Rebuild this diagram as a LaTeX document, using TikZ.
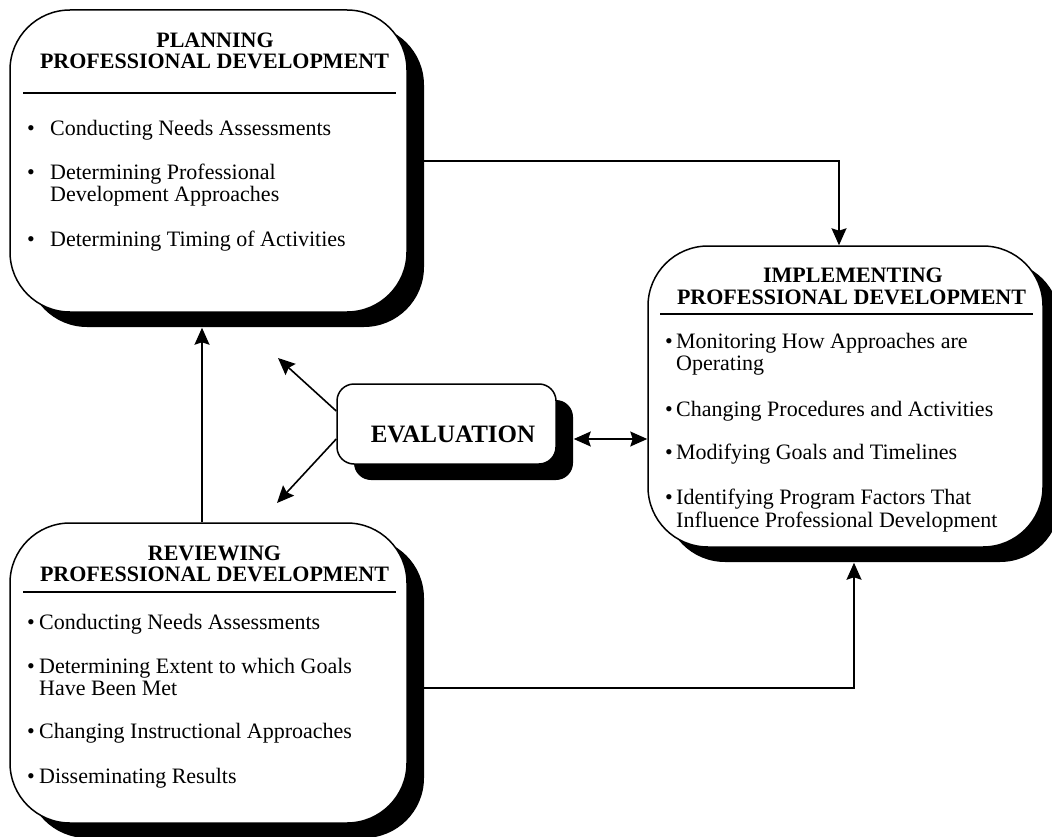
\documentclass[tikz,border=0pt]{standalone}
\usepackage{fontspec}
\setmainfont{Liberation Serif}
\usetikzlibrary{arrows.meta,shadows,calc}
\pgfdeclarelayer{bg}
\pgfsetlayers{bg,main}

\begin{document}
\begin{tikzpicture}[x=1pt,y=-1pt,
  stage/.style={draw, line width=1.5pt, fill=white, rounded corners=60pt, inner sep=0pt,
    general shadow={fill=black, shadow xshift=17pt, shadow yshift=-15pt}},
  evalbox/.style={draw, line width=1.5pt, fill=white, rounded corners=17pt, inner sep=0pt,
    minimum width=219pt, minimum height=80pt,
    general shadow={fill=black, shadow xshift=17pt, shadow yshift=-16pt}},
  head/.style={font=\bfseries\fontsize{22}{22}\selectfont, inner sep=0pt, anchor=base},
  item/.style={font=\fontsize{22}{22}\selectfont, inner sep=0pt, anchor=base west},
  rule/.style={line width=1.5pt},
  tip/.tip={Stealth[length=17pt,width=15pt,inset=2.5pt]},
  arr/.style={line width=1.6pt, -tip},
  darr/.style={line width=1.6pt, tip-tip}]

\useasboundingbox (0,0) rectangle (1052,837);

% ---- the four boxes ----
\node[stage, minimum width=397pt, minimum height=302pt] (pl) at (208.5,161) {};
\node[stage, minimum width=395pt, minimum height=301pt] (im) at (845.5,396.5) {};
\node[stage, minimum width=397pt, minimum height=300pt] (rv) at (208.5,673) {};
\node[evalbox] (ev) at (446.5,424) {};

% ---- planning ----
\node[head] (plh1) at (215,48) {PLANNING};
\node[head] (plh2) at (214.5,69) {PROFESSIONAL DEVELOPMENT};
\draw[rule] (23,93) -- (396,93);
\node[item] (pl1) at (27,136) {\makebox[23pt][l]{\textbullet}Conducting Needs Assessments};
\node[item] (pl2) at (27,180) {\makebox[23pt][l]{\textbullet}Determining Professional};
\node[item] (pl2b) at (50,202) {Development Approaches};
\node[item] (pl3) at (27,247) {\makebox[23pt][l]{\textbullet}Determining Timing of Activities};

% ---- implementing ----
\node[head] (imh1) at (853,282) {IMPLEMENTING};
\node[head] (imh2) at (851.5,304) {PROFESSIONAL DEVELOPMENT};
\draw[rule] (660,314) -- (1033,314);
\node[item] (im1) at (665,348) {\makebox[11pt][l]{\textbullet}Monitoring How Approaches are};
\node[item] (im1b) at (676,370) {Operating};
\node[item] (im2) at (665,416) {\makebox[11pt][l]{\textbullet}Changing Procedures and Activities};
\node[item] (im3) at (665,459) {\makebox[11pt][l]{\textbullet}Modifying Goals and Timelines};
\node[item] (im4) at (665,504) {\makebox[11pt][l]{\textbullet}Identifying Program Factors That};
\node[item] (im4b) at (676,527) {Influence Professional Development};

% ---- reviewing ----
\node[head] (rvh1) at (214.5,560) {REVIEWING};
\node[head] (rvh2) at (214.5,581) {PROFESSIONAL DEVELOPMENT};
\draw[rule] (23,592) -- (396,592);
\node[item] (rv1) at (27,629) {\makebox[12pt][l]{\textbullet}Conducting Needs Assessments};
\node[item] (rv2) at (27,673) {\makebox[12pt][l]{\textbullet}Determining Extent to which Goals};
\node[item] (rv2b) at (39,695) {Have Been Met};
\node[item] (rv3) at (27,738) {\makebox[12pt][l]{\textbullet}Changing Instructional Approaches};
\node[item] (rv4) at (27,783) {\makebox[12pt][l]{\textbullet}Disseminating Results};

% ---- evaluation ----
\node[font=\bfseries\fontsize{25}{25}\selectfont, inner sep=0pt, anchor=base] (evt) at (453,442) {EVALUATION};

% ---- connectors ----
\coordinate (t1) at (278,358);
\coordinate (t2) at (277,503);
\coordinate (e5) at ($(ev.east)+(17,15)$);
\begin{pgfonlayer}{bg}
  \draw[arr] (pl.east) -| ([xshift=-6.5pt]im.north);
  \draw[arr] ($(rv.east)+(0,15)$) -| ($(im.south)+(8.5,15)$);
  \draw[arr] ($(rv.north)+(-6.5,0)$) -- ($(pl.south)+(-6.5,15)$);
\end{pgfonlayer}
\draw[arr] ($(ev.west)+(0,-13)$) -- (t1);
\draw[arr] ($(ev.west)+(0,15)$) -- (t2);
\draw[darr] (e5) -- (e5 -| im.west);

\end{tikzpicture}
\end{document}
